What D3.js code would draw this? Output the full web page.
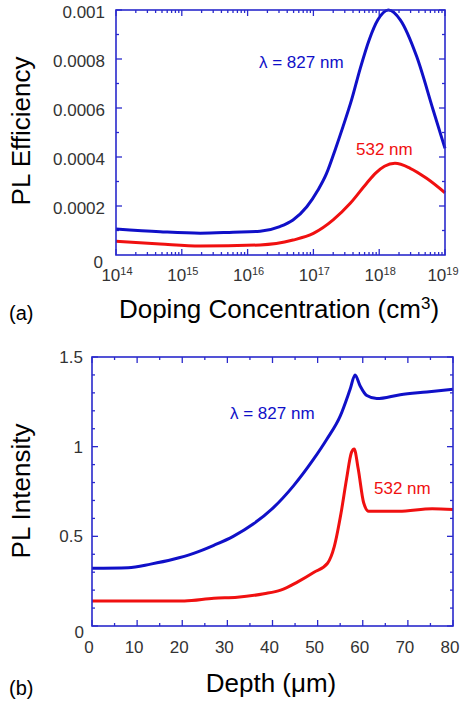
<!DOCTYPE html>
<html lang="en">
<head>
<meta charset="UTF-8">
<title>PL Efficiency / PL Intensity</title>
<script src="https://d3js.org/d3.v7.min.js"></script>
<style>
  body { margin: 0; background: #fff; }
  text { font-family: "Liberation Sans", Arial, sans-serif; }
</style>
</head>
<body>
<script>
// (a) doping concentration, log10(cm^-3) vs PL efficiency
var dopLog827 = [14.0, 14.67, 15.28, 15.78, 16.19, 16.49, 16.69, 16.90, 17.07, 17.20, 17.33, 17.45, 17.58, 17.71, 17.85, 17.98, 18.14, 18.32, 18.57, 18.82, 19.0];
var dopEff827 = [0.000106, 0.000095, 0.000089, 0.000093, 0.000097, 0.000116, 0.000143, 0.000197, 0.000265, 0.000333, 0.000429, 0.000524, 0.000633, 0.00076, 0.00088, 0.00096, 0.001, 0.00096, 0.00081, 0.000592, 0.000435];
var dopLog532 = [14.0, 14.67, 15.28, 16.19, 16.69, 17.0, 17.30, 17.56, 17.81, 17.95, 18.08, 18.24, 18.47, 18.72, 19.0];
var dopEff532 = [0.000056, 0.000045, 0.000037, 0.000041, 0.000061, 0.000088, 0.000143, 0.000211, 0.000293, 0.000335, 0.000362, 0.000374, 0.000354, 0.000313, 0.000254];
var effTicks = [0.0002, 0.0004, 0.0006, 0.0008, 0.001];
var decades = [14, 15, 16, 17, 18, 19];

// (b) depth (um) vs PL intensity
var depth827 = [0, 8, 13, 18, 22.5, 27, 31.3, 35.8, 40.2, 44.6, 49.1, 52.0, 55.0, 57.2, 58.3, 59.4, 60.9, 63.1, 68.3, 74.2, 80];
var int827 = [0.322, 0.325, 0.345, 0.372, 0.405, 0.45, 0.50, 0.57, 0.66, 0.78, 0.93, 1.04, 1.17, 1.32, 1.40, 1.34, 1.285, 1.268, 1.29, 1.305, 1.32];
var depth532 = [0, 16.5, 20.5, 27, 32.2, 38.1, 41.8, 45.5, 49.2, 52.2, 53.7, 55.2, 56.4, 57.5, 58.1, 59.0, 60.2, 61.3, 68, 75.4, 80];
var int532 = [0.14, 0.14, 0.14, 0.155, 0.16, 0.18, 0.2, 0.245, 0.30, 0.35, 0.444, 0.631, 0.818, 0.968, 0.987, 0.875, 0.687, 0.64, 0.64, 0.654, 0.65];
var depthTicks = [0, 10, 20, 30, 40, 50, 60, 70, 80];
var intTicks = [0, 0.5, 1, 1.5];

var W = 460, H = 707;
var axisColor = '#2a2acc', blue = '#1010c8', red = '#f01010';

var svg = d3.select('body').append('svg')
    .attr('width', W)
    .attr('height', H);

function frame(g, x0, x1, y0, y1) {
    g.append('rect')
        .attr('x', x0).attr('y', y0)
        .attr('width', x1 - x0).attr('height', y1 - y0)
        .attr('fill', 'none')
        .attr('stroke', axisColor)
        .attr('stroke-width', 1.6);
}

// inner ticks on both opposite sides of the frame
function tickMarks(g, list, pos, len, side, x0, x1, y0, y1) {
    list.forEach(function (v) {
        var p = pos(v);
        if (side == 'x') {
            g.append('line').attr('x1', p).attr('x2', p).attr('y1', y1).attr('y2', y1 - len)
                .attr('stroke', axisColor).attr('stroke-width', 1.3);
            g.append('line').attr('x1', p).attr('x2', p).attr('y1', y0).attr('y2', y0 + len)
                .attr('stroke', axisColor).attr('stroke-width', 1.3);
        } else {
            g.append('line').attr('y1', p).attr('y2', p).attr('x1', x0).attr('x2', x0 + len)
                .attr('stroke', axisColor).attr('stroke-width', 1.3);
            g.append('line').attr('y1', p).attr('y2', p).attr('x1', x1).attr('x2', x1 - len)
                .attr('stroke', axisColor).attr('stroke-width', 1.3);
        }
    });
}

// ---------- chart (a) ----------
var a = svg.append('g');
var ax0 = 116, ax1 = 445, ay0 = 10, ay1 = 255;
var xa = d3.scaleLinear().domain([14, 19]).range([ax0, ax1]);
var ya = d3.scaleLinear().domain([0, 0.001]).range([ay1, ay0]);

var minorLog = [];
decades.slice(0, -1).forEach(function (d) {
    for (var k = 2; k <= 9; k++) minorLog.push(d + Math.log10(k));
});
tickMarks(a, decades, xa, 6, 'x', ax0, ax1, ay0, ay1);
tickMarks(a, minorLog, xa, 3, 'x', ax0, ax1, ay0, ay1);
tickMarks(a, effTicks, ya, 6, 'y', ax0, ax1, ay0, ay1);
tickMarks(a, d3.range(0.0001, 0.001, 0.0002), ya, 3, 'y', ax0, ax1, ay0, ay1);

var lineA = d3.line().curve(d3.curveMonotoneX)
    .x(function (d) { return xa(d[0]); })
    .y(function (d) { return ya(d[1]); });
a.append('path').datum(d3.zip(dopLog827, dopEff827))
    .attr('d', lineA).attr('fill', 'none').attr('stroke', blue).attr('stroke-width', 3);
a.append('path').datum(d3.zip(dopLog532, dopEff532))
    .attr('d', lineA).attr('fill', 'none').attr('stroke', red).attr('stroke-width', 3);
frame(a, ax0, ax1, ay0, ay1);

a.selectAll('text.ylab').data(effTicks).enter().append('text')
    .attr('x', ax0 - 11)
    .attr('y', function (d) { return ya(d) + 8; })
    .attr('text-anchor', 'end')
    .attr('font-size', 17).attr('fill', '#333')
    .text(function (d) { return d == 0.001 ? '0.001' : d.toFixed(4); });
a.append('text').attr('x', 103).attr('y', 268).attr('text-anchor', 'end')
    .attr('font-size', 17).attr('fill', '#333').text('0');

var xlab = a.selectAll('text.xlab').data(decades).enter().append('text')
    .attr('x', function (d) { return Math.min(xa(d) + 1, 443); })
    .attr('y', 281)
    .attr('text-anchor', 'middle')
    .attr('font-size', 17).attr('fill', '#333');
xlab.append('tspan').text('10');
xlab.append('tspan').attr('dy', -6).attr('font-size', 11).text(function (d) { return d; });

a.append('text').attr('x', 279).attr('y', 318).attr('text-anchor', 'middle')
    .attr('font-size', 26).attr('fill', '#000')
    .text('Doping Concentration (cm')
    .append('tspan').attr('dy', -9).attr('font-size', 17).text('3')
    .select(function () { return this.parentNode; })
    .append('tspan').attr('dy', 9).text(')');
a.append('text').attr('transform', 'translate(30,131) rotate(-90)')
    .attr('text-anchor', 'middle').attr('font-size', 26).attr('fill', '#000')
    .text('PL Efficiency');
a.append('text').attr('x', 9).attr('y', 320).attr('font-size', 20).attr('fill', '#000').text('(a)');
a.append('text').attr('x', 259).attr('y', 68).attr('font-size', 17).attr('fill', blue).text('λ = 827 nm');
a.append('text').attr('x', 356).attr('y', 155).attr('font-size', 17).attr('fill', red).text('532 nm');

// ---------- chart (b) ----------
var b = svg.append('g');
var bx0 = 92, bx1 = 453, by0 = 357, by1 = 626;
var xb = d3.scaleLinear().domain([0, 80]).range([bx0, bx1]);
var yb = d3.scaleLinear().domain([0, 1.5]).range([by1, by0]);

tickMarks(b, depthTicks, xb, 6, 'x', bx0, bx1, by0, by1);
tickMarks(b, d3.range(5, 80, 10), xb, 3, 'x', bx0, bx1, by0, by1);
tickMarks(b, intTicks, yb, 6, 'y', bx0, bx1, by0, by1);
tickMarks(b, [0.1, 0.2, 0.3, 0.4, 0.6, 0.7, 0.8, 0.9, 1.1, 1.2, 1.3, 1.4], yb, 3, 'y', bx0, bx1, by0, by1);

var lineB = d3.line().curve(d3.curveMonotoneX)
    .x(function (d) { return xb(d[0]); })
    .y(function (d) { return yb(d[1]); });
b.append('path').datum(d3.zip(depth827, int827))
    .attr('d', lineB).attr('fill', 'none').attr('stroke', blue).attr('stroke-width', 3);
b.append('path').datum(d3.zip(depth532, int532))
    .attr('d', lineB).attr('fill', 'none').attr('stroke', red).attr('stroke-width', 3);
frame(b, bx0, bx1, by0, by1);

b.selectAll('text.ylab').data(intTicks.slice(1)).enter().append('text')
    .attr('x', bx0 - 9)
    .attr('y', function (d) { return yb(d) + 6; })
    .attr('text-anchor', 'end')
    .attr('font-size', 17).attr('fill', '#333')
    .text(function (d) { return d; });
b.append('text').attr('x', 84).attr('y', 638).attr('text-anchor', 'end')
    .attr('font-size', 17).attr('fill', '#333').text('0');
b.selectAll('text.xlab').data(depthTicks).enter().append('text')
    .attr('x', function (d) { return xb(d) - 3; })
    .attr('y', 653)
    .attr('text-anchor', 'middle')
    .attr('font-size', 17).attr('fill', '#333')
    .text(function (d) { return d; });

b.append('text').attr('x', 271).attr('y', 692).attr('text-anchor', 'middle')
    .attr('font-size', 26).attr('fill', '#000').text('Depth (μm)');
b.append('text').attr('transform', 'translate(30,491) rotate(-90)')
    .attr('text-anchor', 'middle').attr('font-size', 26).attr('fill', '#000')
    .text('PL Intensity');
b.append('text').attr('x', 9).attr('y', 695).attr('font-size', 20).attr('fill', '#000').text('(b)');
b.append('text').attr('x', 230).attr('y', 419).attr('font-size', 17).attr('fill', blue).text('λ = 827 nm');
b.append('text').attr('x', 374).attr('y', 494).attr('font-size', 17).attr('fill', red).text('532 nm');
</script>
</body>
</html>
